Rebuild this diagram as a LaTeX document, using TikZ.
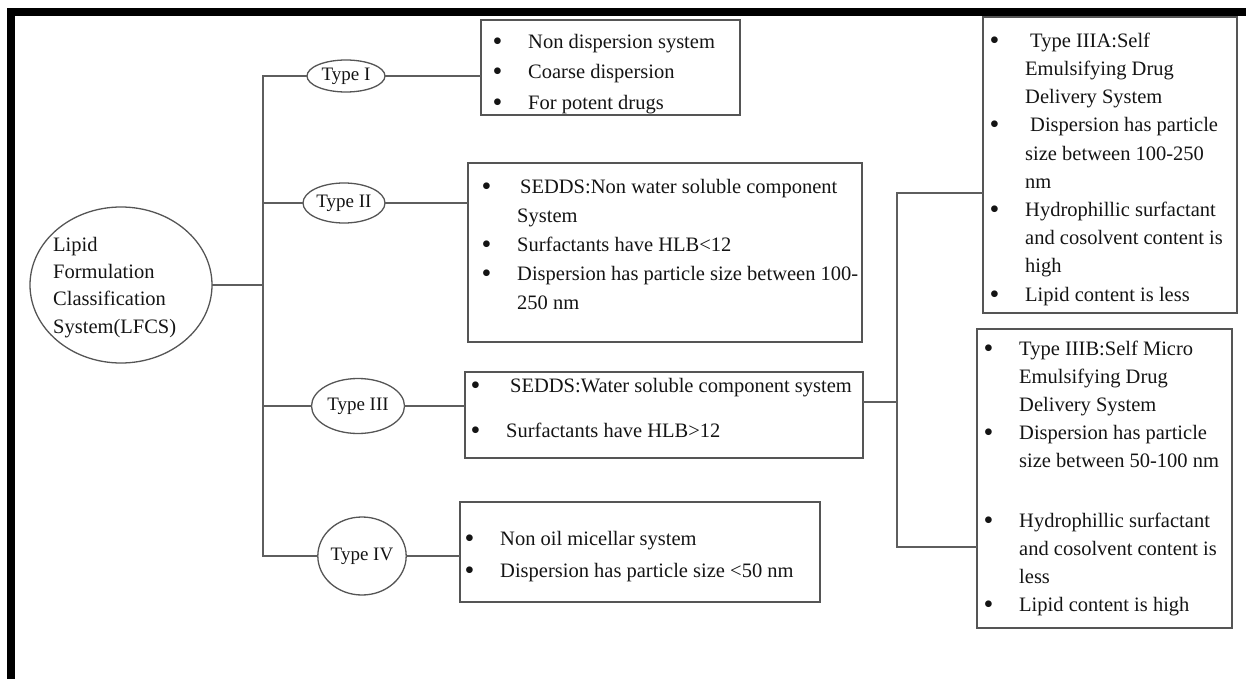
\documentclass[tikz,border=0pt]{standalone}
\usepackage{fontspec}
\setmainfont{Liberation Serif}
\usetikzlibrary{shapes.geometric,calc}
\definecolor{linegray}{HTML}{5E5E5E}
\definecolor{boxgray}{HTML}{555555}
\definecolor{inkblack}{HTML}{141414}
\newlength{\bulw}\setlength{\bulw}{35.5pt}
\newcommand{\bul}{\makebox[\bulw][l]{\rule{0pt}{15pt}\raisebox{-2pt}{\fontsize{28}{28}\selectfont\textbullet}}}
\newcommand{\ind}{\hspace*{\bulw}}

\begin{document}
\begin{tikzpicture}[
		x=1pt, y=-1pt,
		conn/.style={draw=linegray, line width=1.8pt, line cap=rect},
		itembox/.style={draw=boxgray, line width=2pt, inner sep=0pt},
		itemtext/.style={anchor=north west, inner sep=0pt, align=left, text=inkblack, font=\fontsize{20.5}{#1}\selectfont},
		typeoval/.style={draw=boxgray, ellipse, line width=1.3pt, inner sep=0pt, text=inkblack, font=\fontsize{19}{21}\selectfont}
		]
		
		\useasboundingbox (0,0) rectangle (1246,679);
		\fill[black] (7,8) rectangle (1246,16);
		\fill[black] (7,8) rectangle (15,679);
		
		% root
		\node[typeoval, minimum width=182pt, minimum height=156pt] (lfcs) at (121,285) {};
		\node[itemtext=27.3] (lfcstext) at (53,236) {\rule{0pt}{15pt}Lipid\\Formulation\\Classification\\System(LFCS)};
		
		% types
		\node[typeoval, minimum width=78pt, minimum height=32pt] (typeI) at (346,76) {Type I};
		\node[typeoval, minimum width=82pt, minimum height=40pt] (typeII) at (344,203) {Type II};
		\node[typeoval, minimum width=93pt, minimum height=55pt] (typeIII) at (358,406) {Type III};
		\node[typeoval, minimum width=84pt, minimum height=78pt] (typeIV) at (362,556) {Type IV};
		
		% boxes
		\node[itembox, minimum width=259pt, minimum height=95pt] (box1) at (610.5,67.5) {};
		\node[itemtext=30.5] (text1) at (492.5,33) {\bul Non dispersion system\\
			\bul Coarse dispersion\\
			\bul For potent drugs};
		
		\node[itembox, minimum width=394pt, minimum height=179pt] (box2) at (665,252.5) {};
		\node[itemtext=29] (text2) at (481.5,178) {\bul\hspace{3pt}SEDDS:Non water soluble component\\
			\ind System\\
			\bul Surfactants have HLB<12\\
			\bul Dispersion has particle size between 100-\\
			\ind 250 nm};
		
		\node[itembox, minimum width=398pt, minimum height=86pt] (box3) at (664,415) {};
		\node[itemtext=45] (text3) at (470.5,377) {\bul\hspace{4pt}SEDDS:Water soluble component system\\
			\bul Surfactants have HLB>12};
		
		\node[itembox, minimum width=360pt, minimum height=100pt] (box4) at (640,552) {};
		\node[itemtext=32] (text4) at (464.5,530) {\bul Non oil micellar system\\
			\bul Dispersion has particle size <50 nm};
		
		\node[itembox, minimum width=254pt, minimum height=296pt] (boxA) at (1110,165) {};
		\node[itemtext=28.2] (textA) at (989.5,32) {\bul\hspace{5pt}Type IIIA:Self\\
			\ind Emulsifying Drug\\
			\ind Delivery System\\
			\bul\hspace{5pt}Dispersion has particle\\
			\ind size between 100-250\\
			\ind nm\\
			\bul Hydrophillic surfactant\\
			\ind and cosolvent content is\\
			\ind high\\
			\bul Lipid content is less};
		
		\node[itembox, minimum width=255pt, minimum height=299pt] (boxB) at (1104.5,478.5) {};
		\node[itemtext=28] (textB) at (983.5,340) {\bul Type IIIB:Self Micro\\
			\ind Emulsifying Drug\\
			\ind Delivery System\\
			\bul Dispersion has particle\\
			\ind size between 50-100 nm\\[32pt]
			\bul Hydrophillic surfactant\\
			\ind and cosolvent content is\\
			\ind less\\
			\bul Lipid content is high};
		
		% connectors
		\coordinate (trunk) at (263,0);
		\coordinate (split) at (897,402);
		\coordinate (jA) at (897,193);
		\coordinate (jB) at (897,547);
		
		\draw[conn] (lfcs.east) -- (lfcs.east -| trunk);
		\draw[conn] (typeI.west -| trunk) -- (typeIV.west -| trunk);
		\foreach \t in {typeI,typeII,typeIII,typeIV}
		\draw[conn] (\t.west -| trunk) -- (\t.west);
		
		\draw[conn] (typeI.east) -- (typeI.east -| box1.west);
		\draw[conn] (typeII.east) -- (typeII.east -| box2.west);
		\draw[conn] (typeIII.east) -- (typeIII.east -| box3.west);
		\draw[conn] (typeIV.east) -- (typeIV.east -| box4.west);
		
		\draw[conn] (split -| box3.east) -- (split);
		\draw[conn] (jA -| boxA.west) -- (jA) -- (jB) -- (jB -| boxB.west);
		
	\end{tikzpicture}
\end{document}
